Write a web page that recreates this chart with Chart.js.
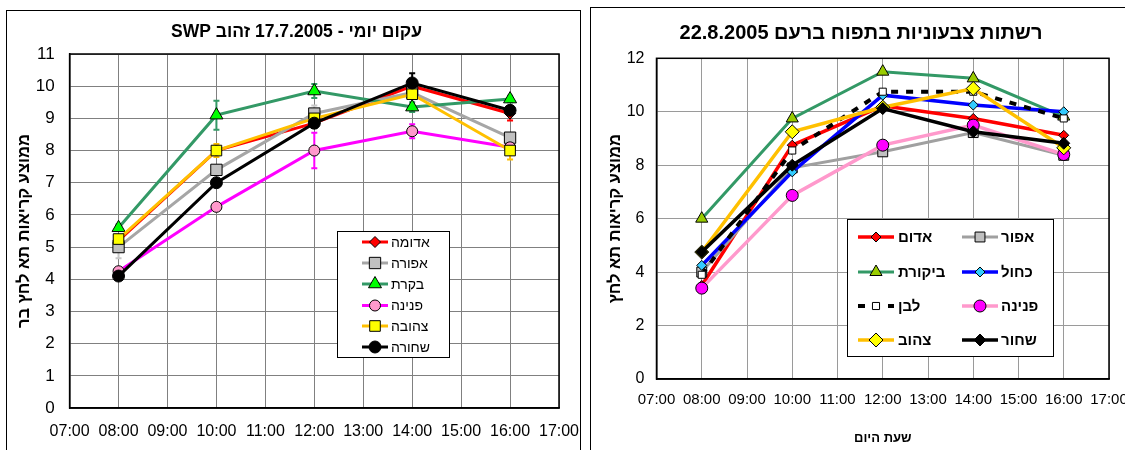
<!DOCTYPE html>
<html>
<head>
<meta charset="utf-8">
<script src="https://cdn.jsdelivr.net/npm/chart.js@4/dist/chart.umd.min.js"></script>
<style>
  html, body { margin: 0; padding: 0; background: #fff; overflow: hidden; width: 1125px; height: 450px; }
  .frame { position: absolute; border: 1px solid #000; background: #fff; overflow: hidden; }
  #leftFrame { left: 6px; top: 10px; width: 573px; height: 470px; }
  #rightFrame { left: 590px; top: 7px; width: 580px; height: 470px; }
  canvas { position: absolute; left: 0; top: 0; }
</style>
</head>
<body>
<div id="leftFrame" class="frame" dir="rtl"><canvas id="dailyChart" width="573" height="439"></canvas></div>
<div id="rightFrame" class="frame" dir="rtl"><canvas id="netsChart" width="560" height="442"></canvas></div>

<script>
// x axis: hours of the day
const firstHour = 7;
const hourTicks = ['07:00', '08:00', '09:00', '10:00', '11:00', '12:00', '13:00', '14:00', '15:00', '16:00', '17:00'];
const hours = [8, 10, 12, 14, 16];

// left chart - 17.7.2005
const dailyNames = ['אדומה', 'אפורה', 'בקרת', 'פנינה', 'צהובה', 'שחורה'];
const adumaValues  = [5.2, 8.0, 8.85, 10.0, 9.15];
const aforaValues  = [5.0, 7.4, 9.15, 9.8, 8.4];
const bakaratValues = [5.6, 9.1, 9.85, 9.35, 9.6];
const pninaValues  = [4.25, 6.25, 8.0, 8.6, 8.1];
const tzehubaValues = [5.25, 8.0, 9.0, 9.75, 8.0];
const shchoraValues = [4.1, 7.0, 8.85, 10.1, 9.25];
// error bar half-lengths
const adumaErr  = [0.15, 0.1, 0.1, 0.15, 0.22];
const aforaErr  = [0.35, 0.15, 0.25, 0.1, 0.1];
const bakaratErr = [0.1, 0.45, 0.22, 0.15, 0.1];
const pninaErr  = [0.1, 0.1, 0.55, 0.22, 0.1];
const tzehubaErr = [0.1, 0.2, 0.1, 0.1, 0.28];
const shchoraErr = [0.1, 0.1, 0.15, 0.3, 0.1];

// right chart - 22.8.2005
const netsNames = ['אדום', 'אפור', 'ביקורת', 'כחול', 'לבן', 'פנינה', 'צהוב', 'שחור'];
const adomValues   = [3.5, 8.75, 10.22, 9.75, 9.12];
const aforValues   = [4.0, 7.9, 8.5, 9.22, 8.37];
const bikoretValues = [6.0, 9.75, 11.5, 11.25, 9.82];
const kacholValues = [4.25, 7.75, 10.62, 10.25, 10.0];
const lavanValues  = [3.9, 8.55, 10.75, 10.75, 9.75];
const pninaBValues = [3.4, 6.87, 8.75, 9.5, 8.4];
const tzahovValues = [4.75, 9.25, 10.17, 10.87, 8.65];
const shachorValues = [4.75, 8.0, 10.12, 9.25, 8.82];

const FONT = '"Liberation Sans", Arial, sans-serif';

function toPoints(values) {
    return hours.map((h, i) => ({ x: h, y: values[i] }));
}

function hourLabel(v) {
    return hourTicks[v - firstHour];
}

// marker for the legend (same shapes as chart points)
function drawMarker(ctx, ds, x, y) {
    const r = ds.pointRadius;
    ctx.save();
    ctx.fillStyle = ds.pointBackgroundColor;
    ctx.strokeStyle = ds.pointBorderColor;
    ctx.lineWidth = ds.pointBorderWidth;
    if (window.Chart && Chart.helpers && Chart.helpers.drawPoint) {
        Chart.helpers.drawPoint(ctx, { pointStyle: ds.pointStyle, radius: r, borderWidth: ds.pointBorderWidth, rotation: 0 }, x, y);
    } else {
        ctx.beginPath();
        ctx.arc(x, y, r, 0, Math.PI * 2);
        ctx.fill();
        ctx.stroke();
    }
    ctx.restore();
}

// legend box drawn inside the plot
const boxLegend = {
    id: 'boxLegend',
    afterDraw(chart, args, opts) {
        const ctx = chart.ctx;
        const b = opts.box;
        ctx.save();
        ctx.fillStyle = '#fff';
        ctx.fillRect(b.x, b.y, b.w, b.h);
        ctx.strokeStyle = '#000';
        ctx.lineWidth = 1;
        ctx.strokeRect(b.x + 0.5, b.y + 0.5, b.w, b.h);
        ctx.font = opts.font;
        ctx.textBaseline = 'middle';
        ctx.direction = 'rtl';
        chart.data.datasets.forEach((ds, i) => {
            const col = i % opts.columns;
            const row = Math.floor(i / opts.columns);
            const x0 = opts.sampleX[col];
            const y0 = opts.rowY[row];
            ctx.save();
            ctx.strokeStyle = ds.borderColor;
            ctx.lineWidth = ds.borderWidth;
            ctx.setLineDash(ds.borderDash || []);
            ctx.beginPath();
            ctx.moveTo(x0, y0);
            ctx.lineTo(x0 + opts.sampleW, y0);
            ctx.stroke();
            ctx.restore();
            drawMarker(ctx, ds, x0 + opts.sampleW / 2, y0);
            ctx.fillStyle = '#000';
            ctx.textAlign = 'right';
            const label = ds.label;
            const w = ctx.measureText(label).width;
            ctx.fillText(label, opts.textX[col] + w, y0 + 1);
        });
        ctx.restore();
    }
};

// black frame around the plot area
const plotFrame = {
    id: 'plotFrame',
    afterDatasetsDraw(chart, args, opts) {
        const a = chart.chartArea;
        const ctx = chart.ctx;
        ctx.save();
        ctx.strokeStyle = '#000';
        ctx.lineWidth = opts.width || 1.5;
        ctx.strokeRect(a.left, a.top, a.right - a.left, a.bottom - a.top);
        ctx.restore();
    }
};

// vertical error bars from dataset.errors
const errorBars = {
    id: 'errorBars',
    beforeDatasetsDraw(chart) {
        const ctx = chart.ctx;
        const xs = chart.scales.x;
        const ys = chart.scales.y;
        chart.data.datasets.forEach((ds) => {
            if (!ds.errors) return;
            ctx.save();
            ctx.strokeStyle = ds.errorColor || ds.borderColor;
            ctx.lineWidth = 2;
            ds.data.forEach((pt, j) => {
                const e = ds.errors[j];
                if (!e) return;
                const px = xs.getPixelForValue(pt.x);
                const top = ys.getPixelForValue(pt.y + e);
                const bot = ys.getPixelForValue(pt.y - e);
                ctx.beginPath();
                ctx.moveTo(px, top); ctx.lineTo(px, bot);
                ctx.moveTo(px - 3, top); ctx.lineTo(px + 3, top);
                ctx.moveTo(px - 3, bot); ctx.lineTo(px + 3, bot);
                ctx.stroke();
            });
            ctx.restore();
        });
    }
};

function series(label, values, line, width, style, radius, fill, extra) {
    return Object.assign({
        label: label,
        data: toPoints(values),
        borderColor: line,
        borderWidth: width,
        pointStyle: style,
        pointRadius: radius,
        pointHoverRadius: radius,
        pointBackgroundColor: fill,
        pointBorderColor: '#000',
        pointBorderWidth: 1,
        tension: 0,
        fill: false
    }, extra || {});
}

function withOrder(list) {
    // later series drawn on top, like the spreadsheet
    list.forEach((ds, i) => { ds.order = list.length - i; });
    return list;
}

// ---------- left chart ----------
const dailySets = withOrder([
    series(dailyNames[0], adumaValues, '#ff0000', 3, 'rectRot', 5.5, '#ff0000', { errors: adumaErr }),
    series(dailyNames[1], aforaValues, '#a6a6a6', 3, 'rect', 8, '#c0c0c0', { errors: aforaErr, errorColor: '#c8c8c8' }),
    series(dailyNames[2], bakaratValues, '#339966', 3, 'triangle', 7.5, '#00ff00', { errors: bakaratErr }),
    series(dailyNames[3], pninaValues, '#ff00ff', 3, 'circle', 5.5, '#ff99cc', { errors: pninaErr }),
    series(dailyNames[4], tzehubaValues, '#ffc000', 3, 'rect', 7.5, '#ffff00', { errors: tzehubaErr }),
    series(dailyNames[5], shchoraValues, '#000000', 3, 'circle', 6, '#000000', { errors: shchoraErr })
]);

new Chart(document.getElementById('dailyChart'), {
    type: 'line',
    data: { datasets: dailySets },
    plugins: [errorBars, plotFrame, boxLegend],
    options: {
        responsive: false,
        animation: false,
        events: [],
        layout: { padding: { left: 27, right: 21, top: 0, bottom: 0 } },
        plugins: {
            legend: { display: false },
            tooltip: { enabled: false },
            title: {
                display: true,
                text: 'עקום יומי - 17.7.2005 זהוב SWP',
                color: '#000',
                font: { family: FONT, size: 17.5, weight: 'bold' },
                padding: { top: 10.5, bottom: 11.5 }
            },
            plotFrame: { width: 1.5 },
            boxLegend: {
                box: { x: 330, y: 220, w: 112, h: 126 },
                columns: 1,
                sampleX: [355],
                sampleW: 26,
                textX: [384],
                rowY: [231, 252, 273, 294.5, 315, 336],
                font: '14px ' + FONT
            }
        },
        scales: {
            x: {
                type: 'linear',
                min: 7,
                max: 17,
                afterFit(scale) { scale.height = 42; scale.paddingLeft = 0; scale.paddingRight = 0; },
                grid: { color: '#808080', lineWidth: 1, drawTicks: false },
                border: { color: '#000', width: 1.5 },
                ticks: {
                    stepSize: 1,
                    autoSkip: false,
                    maxRotation: 0,
                    padding: 14,
                    color: '#000',
                    font: { family: FONT, size: 16 },
                    callback: hourLabel
                }
            },
            y: {
                min: 0,
                max: 11,
                afterFit(scale) { scale.width = 35.6; },
                grid: { color: '#808080', lineWidth: 1, drawTicks: false },
                border: { color: '#000', width: 1.5 },
                ticks: { stepSize: 1, padding: 15, color: '#000', font: { family: FONT, size: 17 } },
                title: {
                    display: true,
                    text: 'ממוצע קריאות תא לחץ בר',
                    color: '#000',
                    font: { family: FONT, size: 16.5, weight: 'bold' },
                    padding: { top: -19.9, bottom: 0 }
                }
            }
        }
    }
});

// ---------- right chart ----------
const netsSets = withOrder([
    series(netsNames[0], adomValues, '#ff0000', 3.5, 'rectRot', 5, '#ff0000'),
    series(netsNames[1], aforValues, '#a0a0a0', 3, 'rect', 7, '#c0c0c0'),
    series(netsNames[2], bikoretValues, '#339966', 3, 'triangle', 7, '#99cc00'),
    series(netsNames[3], kacholValues, '#0000ff', 3.5, 'rectRot', 5, '#33ccff'),
    series(netsNames[4], lavanValues, '#000000', 4, 'rect', 5, '#ffffff', { borderDash: [7, 8] }),
    series(netsNames[5], pninaBValues, '#ff99cc', 3.5, 'circle', 6, '#ff00ff'),
    series(netsNames[6], tzahovValues, '#ffc000', 3.5, 'rectRot', 7, '#ffff00'),
    series(netsNames[7], shachorValues, '#000000', 3.5, 'rectRot', 6, '#000000')
]);

new Chart(document.getElementById('netsChart'), {
    type: 'line',
    data: { datasets: netsSets },
    plugins: [plotFrame, boxLegend],
    options: {
        responsive: false,
        animation: false,
        events: [],
        layout: { padding: { left: 22, right: 42, top: 0, bottom: 0 } },
        plugins: {
            legend: { display: false },
            tooltip: { enabled: false },
            title: {
                display: true,
                text: 'רשתות צבעוניות בתפוח ברעם 22.8.2005',
                color: '#000',
                font: { family: FONT, size: 20, weight: 'bold' },
                padding: { top: 13, bottom: 13.3 }
            },
            plotFrame: { width: 1.5 },
            boxLegend: {
                box: { x: 256, y: 211, w: 206, h: 137 },
                columns: 2,
                sampleX: [267, 371],
                sampleW: 36,
                textX: [307, 410],
                rowY: [229, 264, 298, 332],
                font: 'bold 15px ' + FONT
            }
        },
        scales: {
            x: {
                type: 'linear',
                min: 7,
                max: 17,
                afterFit(scale) { scale.height = 71; },
                grid: { color: '#9a9a9a', lineWidth: 1, drawTicks: false },
                border: { color: '#000', width: 1.5 },
                ticks: {
                    stepSize: 1,
                    autoSkip: false,
                    maxRotation: 0,
                    padding: 12,
                    color: '#000',
                    font: { family: FONT, size: 15 },
                    callback: hourLabel
                },
                title: {
                    display: true,
                    text: 'שעת היום',
                    color: '#000',
                    font: { family: FONT, size: 13, weight: 'bold' },
                    padding: { top: 0, bottom: 4 }
                }
            },
            y: {
                min: 0,
                max: 12,
                afterFit(scale) { scale.width = 43.5; },
                grid: { color: '#9a9a9a', lineWidth: 1, drawTicks: false },
                border: { color: '#000', width: 1.5 },
                ticks: { stepSize: 2, padding: 12, color: '#000', font: { family: FONT, size: 16 } },
                title: {
                    display: true,
                    text: 'ממוצע קריאות תא לחץ',
                    color: '#000',
                    font: { family: FONT, size: 16.5, weight: 'bold' },
                    padding: { top: -7.3, bottom: 0 }
                }
            }
        }
    }
});
</script>
</body>
</html>
